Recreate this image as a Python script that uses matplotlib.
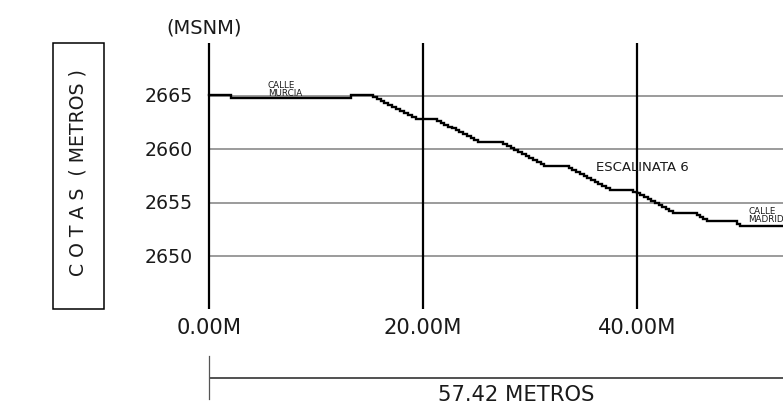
import matplotlib
matplotlib.use("Agg")
import matplotlib.pyplot as plt
from matplotlib.patches import Rectangle
import numpy as np

# ---- data ----
x_ticks = [0, 20, 40]
x_tick_labels = ["0.00M", "20.00M", "40.00M"]
y_ticks = [2650, 2655, 2660, 2665]
y_tick_labels = ["2650", "2655", "2660", "2665"]
y_range = [2645, 2670]
total_length = 57.42
total_label = "57.42 METROS"

# profile outline nodes (landings / flight ends) and number of risers per segment
nodes_x = [0.0, 2.1, 2.1, 13.3, 13.3, 15.3, 19.7, 21.3, 25.5, 27.5, 31.7, 33.6,
           37.8, 39.65, 43.7, 45.6, 46.8, 49.3, 49.9, 57.42]
nodes_y = [2665.05, 2665.05, 2664.85, 2664.85, 2665.05, 2665.05, 2662.84, 2662.84,
           2660.72, 2660.72, 2658.44, 2658.44, 2656.23, 2656.23, 2654.03, 2654.03,
           2653.25, 2653.25, 2652.84, 2652.84]
risers = [0, 0, 0, 0, 0, 12, 0, 12, 0, 12, 0, 12, 0, 12, 0, 4, 0, 2, 0]

labels_text = ["CALLE\nMURCIA", "ESCALINATA 6", "CALLE\nMADRID"]
labels_x = [5.49, 36.17, 50.40]
labels_y = [2665.12, 2658.09, 2653.31]
labels_size = [6.3, 9.5, 6.3]

# ---- figure / coordinate frame ----
W, H = 783, 406
fig = plt.figure(figsize=(W / 100, H / 100), dpi=100)
ax = fig.add_axes([0, 0, 1, 1])
sx, sy = 10.7, 10.667
x0px, y0px = 209, 97
ax.set_xlim(-x0px / sx, (W - x0px) / sx)
ax.set_ylim(2665 - (H - y0px) / sy, 2665 + y0px / sy)
ax.axis("off")

font = "DejaVu Sans"
tc = "#1a1a1a"

# horizontal reference lines
for yv in y_ticks:
    ax.plot([0, total_length + 5], [yv, yv], color="#8a8a8a", lw=1.2, zorder=1,
            solid_capstyle="butt")
# vertical reference lines
for xv in x_ticks:
    ax.plot([xv, xv], y_range, color="black", lw=1.6, zorder=2,
            solid_capstyle="butt")

# profile with steps
px, py = [nodes_x[0]], [nodes_y[0]]
for i, n in enumerate(risers):
    xa, ya, xb, yb = nodes_x[i], nodes_y[i], nodes_x[i + 1], nodes_y[i + 1]
    if n == 0:
        px.append(xb); py.append(yb)
    else:
        w = (xb - xa) / n
        h = (yb - ya) / n
        cx, cy = xa, ya
        for k in range(n):
            cy += h
            px.append(cx); py.append(cy)
            cx += w
            px.append(cx); py.append(cy)
ax.plot(px, py, color="black", lw=1.7, zorder=3, solid_joinstyle="miter")

# y tick labels
for yv, lab in zip(y_ticks, y_tick_labels):
    ax.text(-1.55, yv, lab, ha="right", va="center", fontsize=13.6,
            family=font, color=tc)
# x tick labels
for xv, lab in zip(x_ticks, x_tick_labels):
    ax.text(xv, 2643.3, lab, ha="center", va="center", fontsize=15.2,
            family=font, color=tc)

ax.text(-0.45, 2671.5, "(MSNM)", ha="center", va="center", fontsize=14,
        family=font, color=tc)

# boxed axis title
ax.add_patch(Rectangle((-14.61, y_range[0]), 4.80, y_range[1] - y_range[0],
                       fill=False, edgecolor="black", lw=1.1, zorder=2))
ax.text(-12.25, 2657.93, "C O T A S  ( METROS )", rotation=90, ha="center",
        va="center", fontsize=13.6, family=font, color=tc)

# small labels
for t, xx, yy, fs in zip(labels_text, labels_x, labels_y, labels_size):
    ax.text(xx, yy, t, ha="left", va="baseline", fontsize=fs, family=font,
            color=tc, linespacing=0.85)

# dimension line
ydim = 2638.56
ax.plot([0, total_length], [ydim, ydim], color="#333333", lw=1.2,
        solid_capstyle="butt")
for xv in [0, total_length]:
    ax.plot([xv, xv], [2640.65, 2636.6], color="#555555", lw=0.9)
ax.text(total_length / 2, 2637.1, total_label, ha="center", va="center",
        fontsize=15.2, family=font, color=tc)

fig.savefig("out.png", dpi=100)
